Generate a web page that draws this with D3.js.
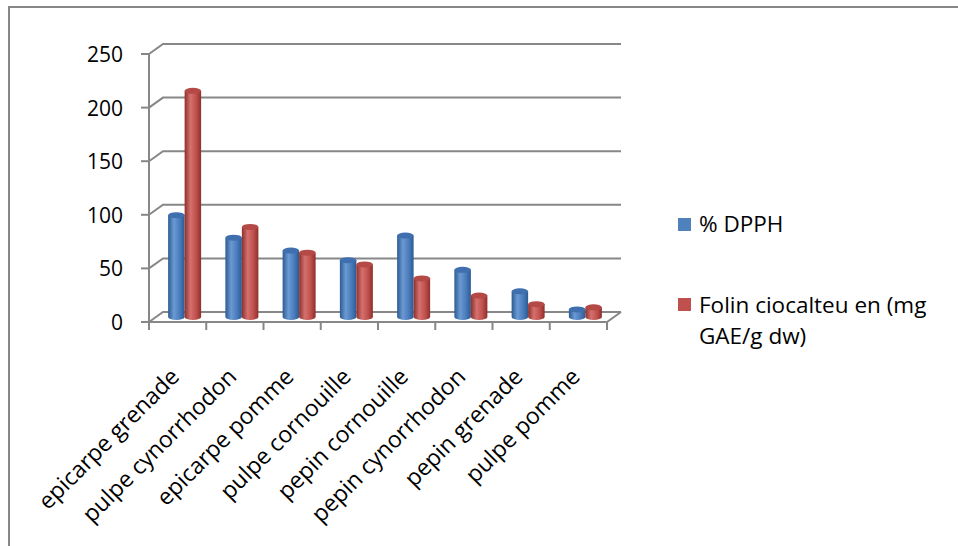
<!DOCTYPE html>
<html lang="fr">
<head>
<meta charset="utf-8">
<title>DPPH / Folin</title>
<script src="https://cdn.jsdelivr.net/npm/d3@7"></script>
<style>
    body { margin: 0; background: #fff; }
    text { font-family: "Open Sans", "Noto Sans", sans-serif; fill: #000; }
    .grid { stroke: #878787; stroke-width: 2; fill: none; }
</style>
</head>
<body>
<div id="chart"></div>
<script>
// data
const categories = ["epicarpe grenade", "pulpe cynorrhodon", "epicarpe pomme", "pulpe cornouille",
                    "pepin cornouille", "pepin cynorrhodon", "pepin grenade", "pulpe pomme"];
const dpph  = [95, 74, 62, 53, 76, 44, 24, 7];
const folin = [211, 84, 60, 49, 36, 20, 12, 9];
const seriesNames = ["% DPPH", "Folin ciocalteu en (mg", "GAE/g dw)"];
const yTicks = [0, 50, 100, 150, 200, 250];

const W = 958, H = 546;
const plotLeft = 149, plotRight = 607, plotBottom = 322, plotTop = 54;
const depth = {dx: 14, dy: -10};   // offset of the back wall

const svg = d3.select("#chart").append("svg")
    .attr("width", W).attr("height", H);

// outer frame
svg.append("rect").attr("x", 9).attr("y", 7).attr("width", W + 10).attr("height", H + 10)
    .attr("fill", "none").attr("stroke", "#878787").attr("stroke-width", 2);

const x = d3.scaleBand().domain(categories).range([plotLeft, plotRight]);
const y = d3.scaleLinear().domain([0, 250]).range([plotBottom, plotTop]);

// gradients for cylinders
const defs = svg.append("defs");
function grad(id, dark, mid, light) {
    const g = defs.append("linearGradient").attr("id", id).attr("x1", 0).attr("x2", 1).attr("y1", 0).attr("y2", 0);
    g.append("stop").attr("offset", "0%").attr("stop-color", dark);
    g.append("stop").attr("offset", "35%").attr("stop-color", light);
    g.append("stop").attr("offset", "70%").attr("stop-color", mid);
    g.append("stop").attr("offset", "100%").attr("stop-color", dark);
}
grad("gBlue", "#2c5a92", "#4a7cbc", "#6b9ad3");
grad("gRed", "#8e2f2c", "#c0504d", "#d4716e");

// gridlines on back wall + side wall diagonals
yTicks.forEach(t => {
    const yy = y(t);
    svg.append("path").attr("class", "grid")
        .attr("d", `M${plotLeft},${yy} L${plotLeft + depth.dx},${yy + depth.dy} L${plotRight + depth.dx},${yy + depth.dy}`);
});
// floor front edge and right diagonal
svg.append("path").attr("class", "grid")
    .attr("d", `M${plotLeft},${plotBottom} L${plotRight},${plotBottom} L${plotRight + depth.dx},${plotBottom + depth.dy}`);
// front vertical axis
svg.append("line").attr("class", "grid")
    .attr("x1", plotLeft).attr("x2", plotLeft).attr("y1", y(250)).attr("y2", plotBottom + 8);

// y ticks & labels
yTicks.forEach(t => {
    svg.append("line").attr("class", "grid")
        .attr("x1", plotLeft - 8).attr("x2", plotLeft).attr("y1", y(t)).attr("y2", y(t));
    svg.append("text").attr("x", 123).attr("y", y(t) + 8)
        .attr("text-anchor", "end").attr("font-size", "21px").text(t);
});

// category ticks
d3.range(categories.length + 1).forEach(i => {
    const xx = plotLeft + i * x.bandwidth();
    svg.append("line").attr("class", "grid")
        .attr("x1", xx).attr("x2", xx).attr("y1", plotBottom).attr("y2", plotBottom + 8);
});

// category labels rotated
categories.forEach(c => {
    const cx = x(c) + x.bandwidth() / 2 + 3;
    const cy = 378;
    svg.append("text")
        .attr("transform", `translate(${cx},${cy}) rotate(-45)`)
        .attr("text-anchor", "end").attr("font-size", "23px").text(c);
});

// cylinders at mid depth
const barW = 16.5, ry = 3;
const mid = {dx: depth.dx / 2, dy: depth.dy / 2};
function cylinder(cx, v, fill, topFill) {
    const y0 = y(0) + mid.dy, y1 = y(v) + mid.dy;
    const g = svg.append("g");
    g.append("path")
        .attr("d", `M${cx - barW / 2},${y1} L${cx - barW / 2},${y0} A${barW / 2},${ry} 0 0 0 ${cx + barW / 2},${y0} L${cx + barW / 2},${y1} Z`)
        .attr("fill", fill);
    g.append("ellipse").attr("cx", cx).attr("cy", y1).attr("rx", barW / 2).attr("ry", ry)
        .attr("fill", topFill);
}
categories.forEach((c, i) => {
    const cx = x(c) + mid.dx + x.bandwidth() / 2;
    cylinder(cx - barW / 2, dpph[i], "url(#gBlue)", "#3f6fae");
    cylinder(cx + barW / 2, folin[i], "url(#gRed)", "#b54946");
});

// legend
const lx = 678;
svg.append("rect").attr("x", lx).attr("y", 218).attr("width", 13).attr("height", 13).attr("fill", "#4f81bd");
svg.append("text").attr("x", 699).attr("y", 232).attr("font-size", "22.5px").text(seriesNames[0]);
svg.append("rect").attr("x", lx).attr("y", 298).attr("width", 13).attr("height", 13).attr("fill", "#c0504d");
svg.append("text").attr("x", 699).attr("y", 313).attr("font-size", "22.5px").text(seriesNames[1]);
svg.append("text").attr("x", 699).attr("y", 344).attr("font-size", "22.5px").text(seriesNames[2]);
</script>
</body>
</html>
